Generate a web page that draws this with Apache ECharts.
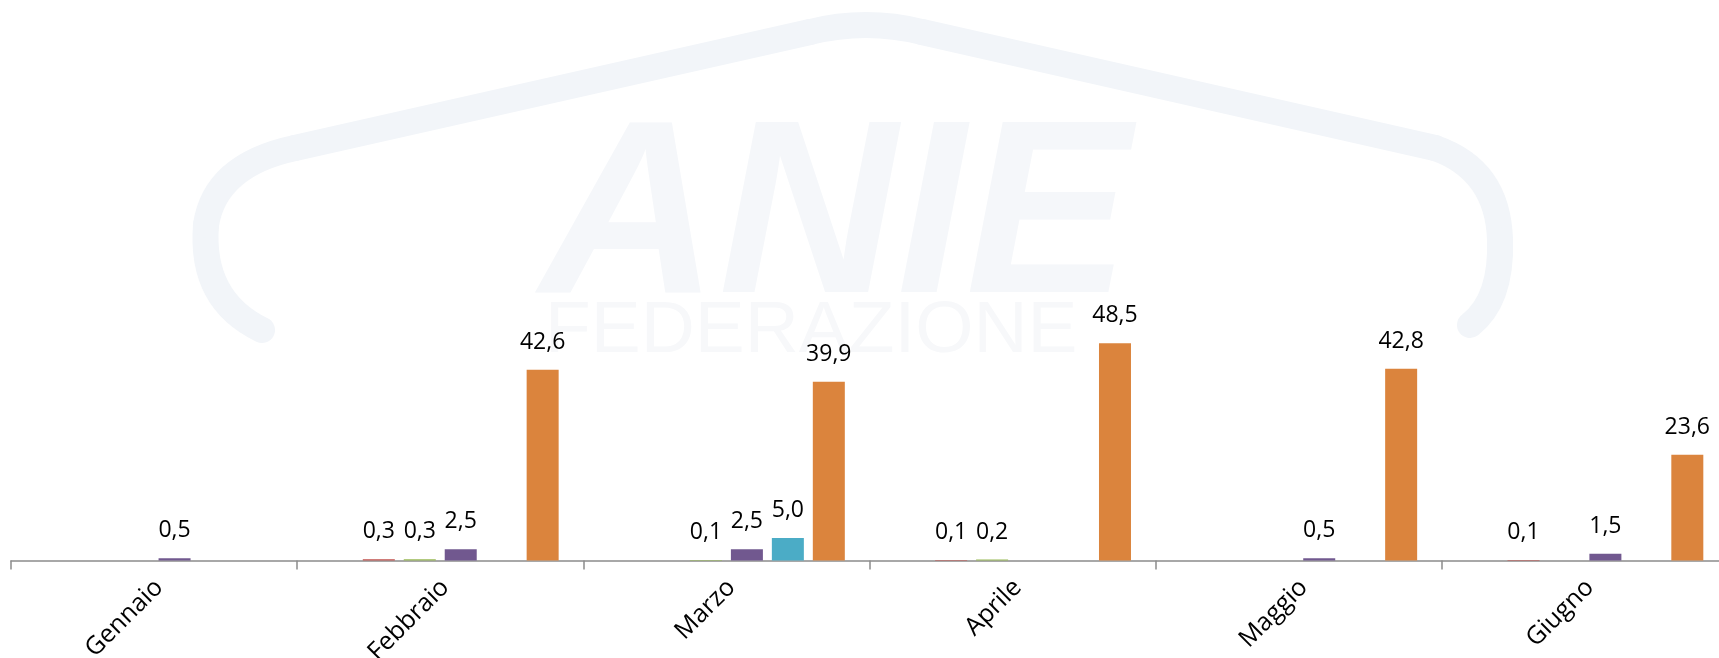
<!DOCTYPE html>
<html>
<head>
<meta charset="utf-8">
<script src="https://cdn.jsdelivr.net/npm/echarts@6/dist/echarts.min.js"></script>
<style>
    html, body { margin: 0; padding: 0; background: #fff; }
    #main { width: 1719px; height: 658px; }
</style>
</head>
<body>
<div id="main"></div>
<script>
// mesi sull'asse x
var months = ['Gennaio', 'Febbraio', 'Marzo', 'Aprile', 'Maggio', 'Giugno'];

// serie (null = nessun valore)
var serieBlu = [null, null, null, null, null, null];
var serieRossa = [null, 0.3, null, 0.1, null, 0.1];
var serieVerde = [null, 0.3, 0.1, 0.2, null, null];
var serieViola = [0.5, 2.5, 2.5, null, 0.5, 1.5];
var serieAzzurra = [null, null, 5.0, null, null, null];
var serieArancio = [null, 42.6, 39.9, 48.5, 42.8, 23.6];

var myChart = echarts.init(document.getElementById('main'));

function makeBar(name, data, color) {
    return {
        name: name,
        type: 'bar',
        data: data,
        barWidth: 32,
        barGap: '28%',
        itemStyle: { color: color },
        label: {
            show: true,
            position: 'top',
            distance: 16,
            color: '#000',
            fontFamily: 'Open Sans',
            fontSize: 23,
            formatter: function (p) {
                return p.value.toFixed(1).replace('.', ',');
            }
        }
    };
}

// logo in filigrana (sfondo)
var wm = '#f2f5f9';
var wmStyle = { fill: null, stroke: wm, lineWidth: 26, lineCap: 'round' };
function curve(x1, y1, cx, cy, x2, y2) {
    return { type: 'bezierCurve', z: -10, shape: { x1: x1, y1: y1, cpx1: cx, cpy1: cy, x2: x2, y2: y2 }, style: wmStyle };
}
function seg(x1, y1, x2, y2) {
    return { type: 'line', z: -10, shape: { x1: x1, y1: y1, x2: x2, y2: y2 }, style: wmStyle };
}

myChart.setOption({
    animation: false,
    backgroundColor: '#fff',
    graphic: [
        curve(262, 330, 200, 300, 206, 225),
        curve(206, 225, 215, 165, 295, 148),
        seg(295, 148, 810, 32),
        curve(810, 32, 866, 18, 922, 32),
        seg(922, 32, 1435, 148),
        curve(1435, 148, 1498, 170, 1500, 240),
        curve(1500, 240, 1502, 300, 1470, 325),
        {
            type: 'text',
            z: -10,
            x: 540,
            y: 100,
            style: {
                text: 'ANIE',
                font: 'italic bold 247px "Liberation Sans"',
                fill: '#f5f7fa'
            }
        },
        {
            type: 'text',
            z: -10,
            x: 545,
            y: 296,
            scaleX: 1.04,
            style: {
                text: 'FEDERAZIONE',
                font: '72px "Liberation Sans"',
                fill: '#f7f8fa'
            }
        }
    ],
    grid: {
        left: 11,
        width: 1717,
        top: 23,
        bottom: 97.5,
        containLabel: false,
        outerBoundsMode: 'none'
    },
    xAxis: {
        type: 'category',
        data: months,
        axisLine: { lineStyle: { color: '#8c8c8c', width: 1.5 } },
        axisTick: { show: true, length: 9, lineStyle: { color: '#8c8c8c', width: 1.5 } },
        axisLabel: {
            rotate: 45,
            margin: 28,
            padding: [0, -7, 0, 0],
            color: '#000',
            fontFamily: 'Open Sans',
            fontSize: 25
        }
    },
    yAxis: {
        type: 'value',
        min: 0,
        max: 120,
        show: false,
        splitLine: { show: false }
    },
    series: [
        makeBar('Serie 1', serieBlu, '#4a7ebb'),
        makeBar('Serie 2', serieRossa, '#c0504d'),
        makeBar('Serie 3', serieVerde, '#98b954'),
        makeBar('Serie 4', serieViola, '#71588f'),
        makeBar('Serie 5', serieAzzurra, '#4bacc6'),
        makeBar('Serie 6', serieArancio, '#db843d')
    ]
});
</script>
</body>
</html>
